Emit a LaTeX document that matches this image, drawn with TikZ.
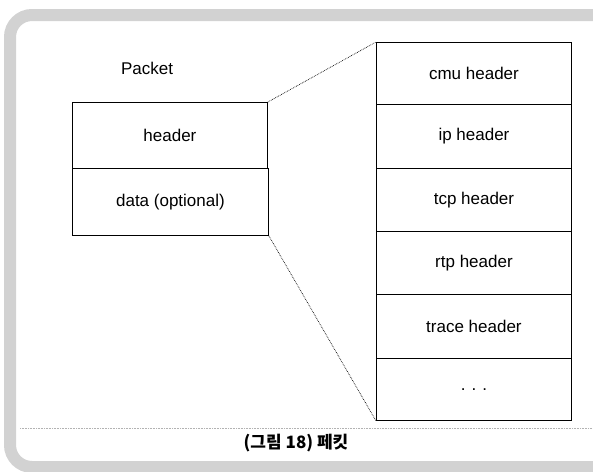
\documentclass[tikz,border=0pt]{standalone}
\usepackage{fontspec}
\setmainfont{Liberation Sans}
\newfontfamily\kr{Noto Sans CJK KR}
\begin{document}
\begin{tikzpicture}[x=1pt,y=-1pt,
  lbl/.style={font=\fontsize{17}{20}\selectfont, inner sep=0pt},
  cell/.style={draw, line width=0.9pt, minimum width=195pt, anchor=north west, inner sep=0pt},
  zoomline/.style={densely dotted, line width=0.7pt},
  frame/.style={gray!35, line width=12pt, rounded corners=22pt}]
\useasboundingbox (0,0) rectangle (593,471);
\fill[white] (0,0) rectangle (593,471);
% scanned frame
\draw[frame] (600,15) -- (10,15) -- (10,467) -- (600,467);
\draw[gray!60, densely dotted, line width=0.6pt] (20,428) -- (593,428);
% packet
\node[lbl] (ptitle) at (147,68) {Packet};
\node[cell, minimum height=66pt] (hdr) at (72,102) {};
\node[cell, minimum height=67pt, minimum width=196pt] (dat) at (72,168) {};
\node[lbl] at (hdr.center) {header};
\node[lbl] at (dat.center) {data (optional)};
% header stack
\node[cell, minimum height=62pt] (c1) at (376,42) {};
\node[cell, minimum height=64pt] (c2) at (376,104) {};
\node[cell, minimum height=63pt] (c3) at (376,168) {};
\node[cell, minimum height=63pt] (c4) at (376,231) {};
\node[cell, minimum height=64pt] (c5) at (376,294) {};
\node[cell, minimum height=62pt] (c6) at (376,358) {};
\node[lbl] at (c1.center) {cmu header};
\node[lbl] at (c2.center) {ip header};
\node[lbl] at (c3.center) {tcp header};
\node[lbl] at (c4.center) {rtp header};
\node[lbl] at (c5.center) {trace header};
\node[lbl] at (c6.center) {.\hspace{6pt}.\hspace{6pt}.};
% zoom lines
\draw[zoomline] (hdr.north east) -- (c1.north west);
\draw[zoomline] (dat.south east) -- (c6.south west);
% caption
\node[font=\kr\bfseries\fontsize{17}{20}\selectfont, inner sep=0pt] (cap) at (296,443) {(그림 18) 페킷};
\end{tikzpicture}
\end{document}
